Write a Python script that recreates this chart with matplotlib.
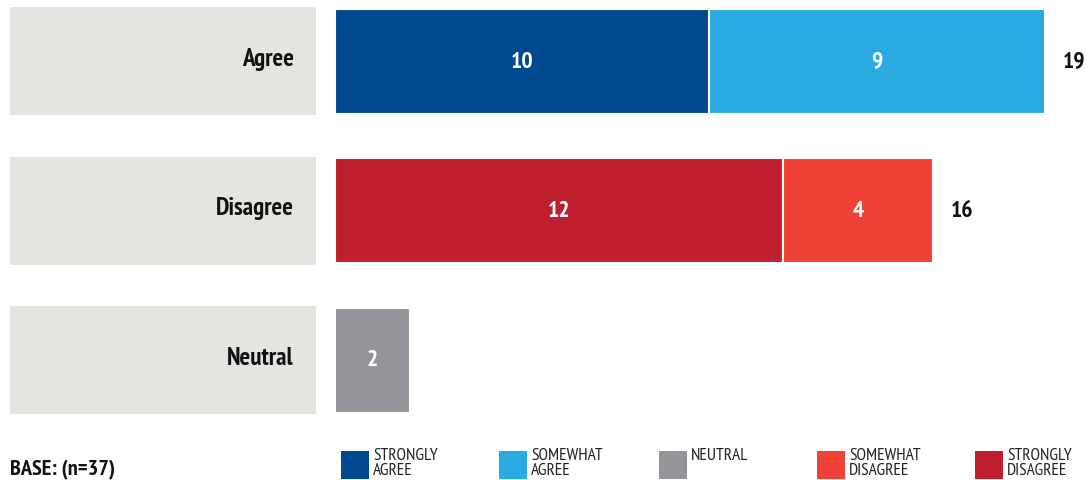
import matplotlib
matplotlib.use("Agg")
import matplotlib.pyplot as plt
from matplotlib import font_manager as fm

# ---- data ----
categories = ["Agree", "Disagree", "Neutral"]
series_names = ["STRONGLY\nAGREE", "SOMEWHAT\nAGREE", "NEUTRAL", "SOMEWHAT\nDISAGREE", "STRONGLY\nDISAGREE"]
series_colors = ["#004990", "#29ABE2", "#939598", "#EF4136", "#BE1E2D"]
# segments per category: values and the series they belong to
agree_segments = [10, 9]
agree_series = [0, 1]
disagree_segments = [12, 4]
disagree_series = [4, 3]
neutral_segments = [2]
neutral_series = [2]
totals = [19, 16, None]
base_text = "BASE: (n=37)"

available = {f.name for f in fm.fontManager.ttflist}
FONT = "DejaVu Sans"
for cand in ["PT Sans Narrow", "Roboto Condensed", "Fira Sans Condensed",
             "Open Sans Condensed", "Asap Condensed", "Barlow Condensed", "Liberation Sans Narrow"]:
    if cand in available:
        FONT = cand
        break
plt.rcParams["font.family"] = [FONT, "DejaVu Sans"]

W, H = 1086, 481
PX_PER_UNIT = 37.35
X0 = 335  # px where value 0 sits
fig = plt.figure(figsize=(W / 100, H / 100), dpi=100)
ax = fig.add_axes([0, 0, 1, 1])
ax.set_xlim(-X0 / PX_PER_UNIT, (W - X0) / PX_PER_UNIT)
ROW0, ROWSTEP = 62, 149.5
ax.set_ylim((H - ROW0) / ROWSTEP, -ROW0 / ROWSTEP)
ax.axis("off")

rows = [(agree_segments, agree_series), (disagree_segments, disagree_series), (neutral_segments, neutral_series)]
bar_h = 105 / ROWSTEP
box_h = 108 / ROWSTEP
box_left = (10 - X0) / PX_PER_UNIT
box_right = (316 - X0) / PX_PER_UNIT

for i, (cat, (vals, sidx)) in enumerate(zip(categories, rows)):
    ax.barh(i, box_right - box_left, left=box_left, height=box_h, color="#E6E4E1", linewidth=0)
    ax.text((294 - X0) / PX_PER_UNIT, i - 0.02, cat, ha="right", va="center",
            fontsize=18, fontweight="bold", color="#111111")
    left = 0
    for v, s in zip(vals, sidx):
        ax.barh(i, v, left=left, height=bar_h, color=series_colors[s],
                edgecolor="white", linewidth=1.5)
        ax.text(left + v / 2, i, str(v), ha="center", va="center", color="white",
                fontsize=17, fontweight="bold")
        left += v
    if totals[i] is not None:
        ax.text(left + 18 / PX_PER_UNIT, i, str(totals[i]), ha="left", va="center",
                fontsize=17, fontweight="bold", color="#111111")

# legend
leg_x = [341, 499, 659, 817, 975]
for x, name, col in zip(leg_x, series_names, series_colors):
    fig.patches.append(plt.Rectangle((x / W, 1 - 480 / H), 28 / W, 28 / H,
                                     transform=fig.transFigure, color=col, linewidth=0))
    fig.text((x + 32) / W, 1 - 448 / H, name, ha="left", va="top", fontsize=12.5,
             color="#231F20", linespacing=0.9)

fig.text(10 / W, 1 - 470 / H, base_text, ha="left", va="center", fontsize=16,
         fontweight="bold", color="#111111")

fig.savefig("out.png", dpi=100)
